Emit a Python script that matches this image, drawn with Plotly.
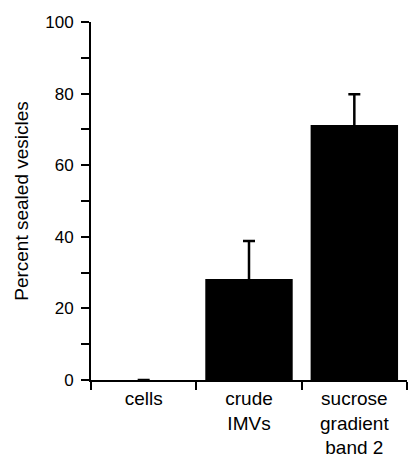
import plotly.graph_objects as go

categories = ["cells", "crude<br>IMVs", "sucrose<br>gradient<br>band 2"]
values = [0, 28.2, 71.2]
errors_up = [float("nan"), 10.6, 8.6]
y_ticks = [0, 20, 40, 60, 80, 100]

fig = go.Figure()
fig.add_trace(go.Bar(
    x=categories, y=values, width=0.83,
    marker=dict(color="black", line=dict(width=0)),
    error_y=dict(type="data", array=errors_up, arrayminus=[float("nan"), 3, 3], symmetric=False,
                 color="black", thickness=2.5, width=6),
))

font = "Liberation Sans, Arial, Helvetica, sans-serif"
fig.update_layout(
    width=409, height=462,
    margin=dict(l=91, r=2, t=22, b=82),
    paper_bgcolor="white", plot_bgcolor="white",
    showlegend=False,
    font=dict(family=font, color="black"),
    xaxis=dict(
        type="category", range=[-0.5, 2.5], tickson="boundaries",
        ticks="outside", ticklen=8, tickwidth=2, tickcolor="black",
        showline=True, linecolor="black", linewidth=2,
        showgrid=False, zeroline=False, automargin=False,
        tickfont=dict(size=19, family=font, color="black"),
    ),
    yaxis=dict(
        range=[0, 100], tickmode="array", tickvals=y_ticks,
        ticks="outside", ticklen=8, tickwidth=2, tickcolor="black",
        minor=dict(dtick=10, ticks="outside", ticklen=8, tickwidth=2, tickcolor="black"),
        showline=True, linecolor="black", linewidth=2,
        showgrid=False, zeroline=False, automargin=False,
        tickfont=dict(size=17, family=font, color="black"),
        ticklabelstandoff=4,
        title=dict(text="Percent sealed vesicles", font=dict(size=19, family=font, color="black"), standoff=12),
    ),
)

fig.write_html("out.html", config={"displayModeBar": False},
               post_script="document.body.style.margin='0';document.body.style.padding='0';")
